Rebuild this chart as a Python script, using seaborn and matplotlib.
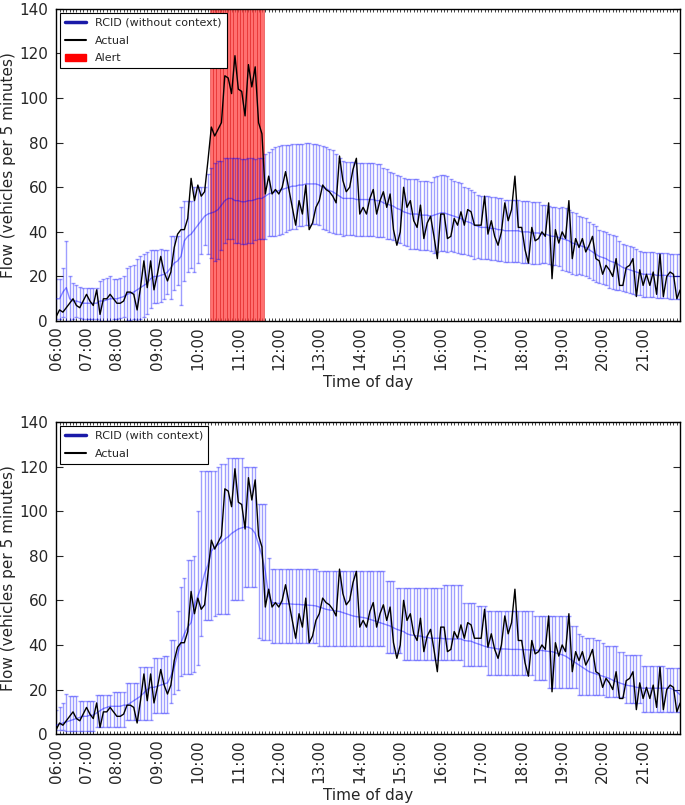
import numpy as np
import pandas as pd
import seaborn as sns
import matplotlib.pyplot as plt
from matplotlib.lines import Line2D
from matplotlib.patches import Patch

# sample times: the first two hours have a few missing 5-minute samples
early_times = ['06:00', '06:05', '06:10', '06:20', '06:25', '06:35', '06:40', '06:50', '06:55',
               '07:00', '07:05', '07:10', '07:20', '07:25', '07:35', '07:40', '07:50', '07:55']
late_times = list(pd.date_range('2000-01-01 08:00', '2000-01-01 21:55', freq='5min').strftime('%H:%M'))
times = early_times + late_times

alert_start = '10:20'
alert_end = '11:35'

# observed flow (vehicles per 5 minutes)
actual = [2, 5, 4, 6, 8, 10, 7, 6, 9, 12, 9, 7, 14, 3, 10, 10, 12, 10,
          8, 8, 9, 13, 13, 12, 5, 15, 27, 15, 27, 14,
          21, 29, 22, 18, 22, 33, 39, 41, 41, 46, 64, 54, 61, 56, 58, 72,
          87, 83, 86, 89, 110, 109, 102, 119, 104, 103, 92, 115, 105, 114, 89, 84,
          57, 65, 57, 59, 57, 60, 67, 59, 51, 43, 54, 48, 61, 41, 44, 51, 54, 61,
          59, 58, 56, 53, 74, 63, 58, 60, 68, 73, 48, 51, 48, 55,
          59, 48, 54, 58, 51, 57, 41, 34, 40, 60, 51, 54, 45, 42, 52, 37, 44, 47,
          38, 28, 48, 48, 37, 38, 46, 43, 49, 43, 50, 49, 43, 43, 43, 56, 39, 45,
          38, 34, 40, 53, 45, 50, 65,
          42, 42, 32, 26, 42, 36, 37, 40, 38, 53, 19, 41, 35, 40, 37, 54, 28, 37,
          33, 37, 31, 34, 38, 28, 27, 21, 25, 23, 20, 28, 16, 16, 24, 25, 28, 11,
          23, 16, 21, 16, 22, 12, 30, 11, 20, 22, 21, 10, 14]

# RCID without context: predicted mean and standard deviation
pred_nc = [10, 10, 13, 15, 10, 9, 9, 8.5, 8, 8, 8, 8, 8, 9, 9, 9.5, 10, 10,
           10, 10.5, 11, 12, 12.5, 13, 14, 15, 16, 17, 19, 20,
           20, 20.5, 21, 22, 24, 26, 27, 29, 36, 38, 39, 41, 43, 45, 47, 48,
           48.5, 49, 50, 52, 54, 55, 55, 54, 54, 53.5, 53.5, 54, 54, 54.5, 55, 55,
           56, 57, 57.5, 58, 58.5, 59, 59.5, 60, 60.5, 60.5, 61, 61, 61.5, 61.5, 61.5, 61.5,
           61, 60, 59.5, 58.5, 58, 57, 56, 55, 55, 55, 55, 54.5, 54.5, 54.5, 54.5, 54.5,
           54.5, 54, 54, 53, 52.5, 52, 51.5, 50.5, 50, 49, 48.5, 48, 48, 48, 47.5, 47.5,
           47.5, 47, 47.5, 48, 48.5, 48.5, 48, 47.5, 47, 46.5, 46, 45, 44.5, 44, 43, 42.5,
           42, 42, 42, 41.5, 41.5, 41, 41, 40.5, 40.5, 40.5, 40.5,
           40.5, 40, 40, 40, 39.5, 39.5, 39.5, 39, 39, 38.5, 38, 38, 37.5, 37, 36.5, 36,
           35, 34.5, 34, 33.5, 33, 32, 31, 30, 29, 28.5, 28, 27, 26.5, 26, 25, 24,
           23.5, 23, 22.5, 22, 21.5, 21, 21, 21, 21, 20.5, 20.5, 20.5, 20.5, 20, 20, 20, 20]
std_nc = [9, 9, 11, 21, 10, 8, 7, 7, 7, 7, 7, 7, 7, 9, 10, 10, 10, 9,
          9, 9, 9, 12, 12, 12, 14, 14, 14, 14, 13, 12,
          12, 12, 11, 10, 14, 12, 11, 22, 18, 16, 15, 19, 17, 15, 13, 18,
          20, 22, 22, 20, 19, 18, 18, 19, 19, 19, 19, 19, 19, 18, 18, 18,
          19, 19, 19.5, 20, 20, 20, 19.5, 19, 19, 19, 18.5, 18.5, 18.5, 18.5, 18, 18,
          18, 18.5, 18.5, 18.5, 18.5, 18, 17, 17, 16.5, 16.5, 16.5, 16.5, 16.5, 16.5, 16.5, 16.5,
          16.5, 16.5, 16.5, 15.5, 15.5, 15, 15, 15, 15, 15, 15, 15.5, 15.5, 15.5, 15.5, 15.5,
          15.5, 15.5, 17, 17, 17, 17, 17, 16, 16, 16, 16, 15, 15, 15, 15, 14,
          14, 14, 14, 14, 14, 14, 14, 14, 14, 14, 14,
          14, 14, 14, 14, 14, 14, 14, 13, 13, 13, 13, 13, 13, 14, 14, 14,
          14, 14, 13, 13, 13, 12.5, 12.5, 12.5, 12, 12, 12, 12, 12, 12, 11, 10.5,
          10.5, 10.5, 10.5, 10.5, 10, 10, 10, 10, 10, 10, 10, 10, 10, 10, 10, 10, 10]

# RCID with context: predicted mean, lower and upper bounds
pred_c = [4, 4.5, 5, 5.5, 6, 6.5, 7, 7.5, 8, 8, 8.5, 8.5, 9.5, 10.5, 11.5, 12, 12.5, 12.5,
          12.5, 12.5, 13, 13, 14, 15, 16, 17, 18.5, 20, 21, 21,
          21.5, 22, 22.5, 23, 26, 30, 36, 41, 45, 48, 50, 58, 62, 66, 72, 76,
          82, 84, 85, 86, 87.5, 88.5, 90, 91, 92, 92.5, 93, 92.8, 92, 90, 85, 80,
          73, 62, 59, 58.8, 58.6, 58.5, 58.5, 58.4, 58.3, 58.2, 58.2, 58, 58, 57.8, 57.7, 57.5,
          57, 56.5, 56, 55.7, 55.5, 55.2, 55, 54.5, 54, 53.5, 53, 52.7, 52.5, 52.3, 52, 51.5,
          51, 50.5, 50, 49.5, 49, 48.5, 47.7, 47, 46.5, 46, 45, 44.5, 44.3, 44, 44, 43.5,
          43.5, 43, 43, 43, 43, 42.8, 42.7, 42.7, 42.7, 42.7, 42.7, 42, 41.8, 41.7, 41, 40.5,
          40, 39.4, 39, 38.7, 38.5, 38.2, 38.2, 38.2, 38.1, 38, 38,
          38, 37.9, 37.9, 37.8, 37.8, 37.7, 37.6, 37.5, 37.3, 37.1, 37, 36.5, 36, 35.6, 35, 34,
          33, 32, 31, 30, 29, 28, 27.5, 27, 26.5, 26, 25.5, 25, 24.2, 23.6, 23, 22.5,
          22, 21.7, 21.5, 21, 20.8, 20.6, 20.6, 20.6, 20.6, 20.6, 20.6, 20.6, 20.6, 20.6, 20, 19, 17.6]
low_c = [2, 2, 2, 1.5, 1.5, 1.5, 1.5, 1.5, 1.5, 1.5, 1.5, 1.5, 3.3, 3.3, 3.3, 3.3, 3.3, 3.3,
         3.3, 3.3, 3.3, 6.3, 6.3, 6.3, 6.3, 6.3, 6.3, 6.3, 6.3, 9.3,
         9.3, 9.3, 9.3, 9.3, 14, 18, 20, 26, 27, 27, 27, 28, 31, 44, 51, 51,
         51, 53, 54, 54, 54, 54, 60, 60, 60, 60, 66, 66, 66, 66, 43, 42,
         42, 42, 41, 41, 41, 41, 41, 41, 41, 41, 41, 41, 41, 41, 41, 41,
         39.4, 39.4, 39.4, 39.4, 39.4, 39.4, 39.4, 39.4, 39.4, 39.4, 39.4, 39.4, 39.4, 39.4, 39.4, 39.4,
         39.4, 39.4, 39.4, 39.4, 36.4, 36.4, 36.4, 36.4, 36.4, 33.4, 33.4, 33.4, 33.4, 33.4, 33.4, 33.4,
         33.4, 33.4, 33.4, 33.4, 33.4, 33.4, 33.4, 33.4, 33.4, 33.4, 33.4, 30.4, 30.4, 30.4, 30.4, 30.4,
         30.4, 30.4, 26.6, 26.6, 26.6, 26.6, 26.6, 26.6, 26.6, 26.6, 26.6,
         26.6, 26.6, 26.6, 26.6, 26.6, 24.4, 24.4, 24.4, 24.4, 20.6, 20.6, 20.6, 20.6, 20.6, 20.6, 20.6,
         20.6, 20.6, 17.6, 17.6, 17.6, 17.6, 17.6, 17.6, 17.6, 17.6, 16.8, 16.8, 16.8, 16.8, 16.8, 16.8,
         13.8, 13.8, 13.8, 13.8, 13.8, 10, 10, 10, 10, 10, 10, 10, 10, 10, 10, 10, 10]
high_c = [11, 12, 14, 18, 17, 17, 17, 15, 15, 15, 15, 15, 17.6, 17.6, 17.6, 17.6, 17.6, 19,
          19, 19, 19, 23, 23, 23, 23, 30, 30, 30, 30, 34,
          34, 34, 35, 35, 42, 42, 55, 66, 70, 78, 78, 80, 100, 118, 118, 118,
          118, 118, 120, 121, 121, 124, 124, 124, 124, 124, 120, 120, 120, 120, 103, 103,
          103, 79, 74, 74, 74, 74, 74, 74, 74, 74, 74, 74, 74, 74, 74, 74,
          73, 73, 73, 73, 73, 73, 73, 73, 73, 73, 73, 73, 73, 73, 73, 73,
          73, 73, 73, 73, 68.7, 68.7, 68.7, 65.7, 65.7, 65.7, 65.7, 65.7, 65.7, 65.7, 65.7, 65.7,
          65.7, 65.7, 65.7, 65.7, 65.7, 67, 67, 67, 67, 67, 67, 59, 59, 59, 59, 57.4,
          57.4, 57.4, 55, 55, 55, 55, 55, 55, 55, 55, 55,
          55, 55, 55, 55, 55, 53, 53, 53, 53, 53, 53, 53, 53, 53, 53, 53,
          48.4, 48.4, 45, 44, 43, 43, 43, 42, 42, 41, 39.4, 39.4, 39.4, 39.4, 37, 37,
          35.6, 35.6, 35.6, 35.6, 35.6, 30.4, 30.4, 30.4, 30.4, 30.4, 30.4, 30.4, 29.6, 29.6, 29.6, 29.6, 29.6]

y_ticks = [0, 20, 40, 60, 80, 100, 120, 140]


def draw_panel(ax, mean, low, high, model_label, show_alert):
    x = np.arange(len(times))
    mean = np.asarray(mean, dtype=float)
    if show_alert:
        i0, i1 = times.index(alert_start), times.index(alert_end)
        ax.bar(x[i0:i1 + 1], 140, width=1.0, bottom=0, color=(1, 0.25, 0.25, 0.75),
               edgecolor=(0.85, 0.05, 0.05, 0.5), linewidth=0.6, zorder=1)
    yerr = [mean - np.asarray(low), np.asarray(high) - mean]
    ax.errorbar(x, mean, yerr=yerr, fmt='none', ecolor='blue', alpha=0.38,
                elinewidth=1, capsize=1.5, zorder=2)
    sns.lineplot(x=x, y=mean, ax=ax, color='blue', alpha=0.45, lw=1, zorder=3)
    sns.lineplot(x=x, y=actual, ax=ax, color='black', lw=1, zorder=4)

    ax.set_xlim(0, len(times) - 1)
    ax.set_ylim(0, 140)
    ax.set_yticks(y_ticks)
    ax.set_xticks(x)
    ax.set_xticklabels([t if t.endswith(':00') else '' for t in times], rotation=90)
    ax.tick_params(axis='x', length=2.5, width=0.6, top=True, direction='in', labelsize=11, pad=4)
    ax.tick_params(axis='y', length=5, right=True, direction='in', labelsize=11, pad=6)
    ax.set_xlabel('Time of day', fontsize=11, labelpad=3)
    ax.set_ylabel('Flow (vehicles per 5 minutes)', fontsize=11, labelpad=2)
    for s in ax.spines.values():
        s.set_visible(True)
        s.set_color('black')
        s.set_linewidth(1)

    handles = [Line2D([], [], color='#1a1aa8', lw=2.5), Line2D([], [], color='black', lw=1.5)]
    labels = [model_label, 'Actual']
    if show_alert:
        handles.append(Patch(color='red'))
        labels.append('Alert')
    leg = ax.legend(handles, labels, loc='upper left', fontsize=8, fancybox=False,
                    framealpha=1, edgecolor='black', borderaxespad=0.35, handlelength=1.9,
                    labelspacing=0.7, borderpad=0.45)
    leg.get_frame().set_linewidth(0.8)


sns.set_style('ticks')
plt.rcParams['font.family'] = ['DejaVu Sans']

fig, (ax1, ax2) = plt.subplots(2, 1, figsize=(6.85, 8.05), dpi=100)
fig.subplots_adjust(left=0.082, right=0.993, top=0.989, bottom=0.088, hspace=0.323)

draw_panel(ax1, pred_nc, np.array(pred_nc) - np.array(std_nc), np.array(pred_nc) + np.array(std_nc),
           'RCID (without context)', True)
draw_panel(ax2, pred_c, low_c, high_c, 'RCID (with context)', False)

fig.savefig('out.png', dpi=100)
